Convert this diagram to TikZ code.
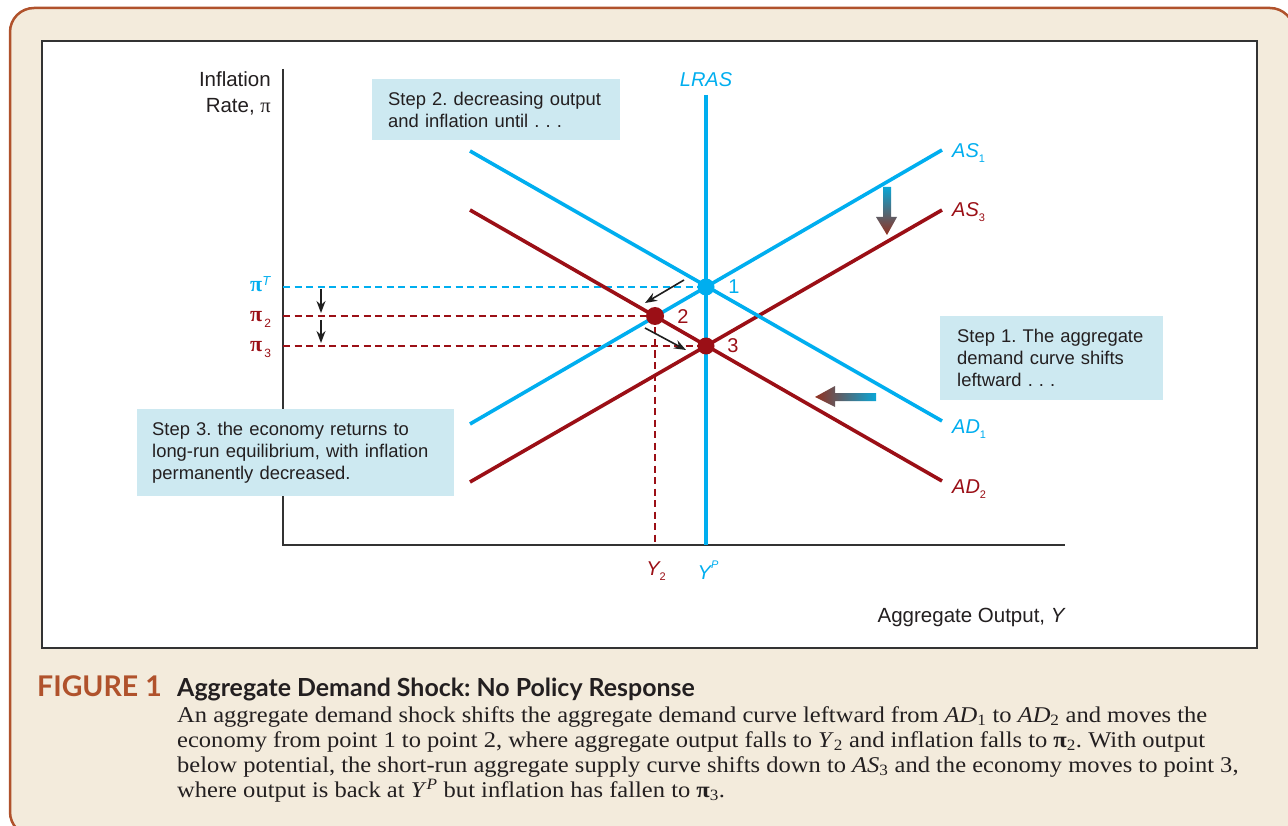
\documentclass[tikz,border=0pt]{standalone}
\usepackage{fontspec}
\setmainfont{Liberation Serif}
\setsansfont{Liberation Sans}
\newfontfamily\capfont{Lato}
\newfontfamily\bodyfont[FakeStretch=1.09]{Liberation Serif}
\usetikzlibrary{arrows.meta}
\definecolor{cyanc}{HTML}{00AEEF}
\definecolor{redc}{HTML}{9B0F16}
\definecolor{brownc}{HTML}{B0522C}
\definecolor{cream}{HTML}{F3EBDC}
\definecolor{boxc}{HTML}{CDE9F1}
\definecolor{axisc}{HTML}{333333}
\definecolor{txtc}{HTML}{231F20}
\definecolor{gblue}{HTML}{0AA6D6}
\definecolor{gred}{HTML}{93301F}
\newcommand\lsub[1]{\raisebox{-5.5pt}{\fontsize{11}{11}\selectfont\upshape #1}}
\frenchspacing
\begin{document}
\begin{tikzpicture}[x=1pt,y=-1pt,
  curve/.style={line width=3.6pt},
  axisline/.style={axisc,line width=1.4pt},
  dashline/.style={line width=1.2pt,dash pattern=on 7pt off 4.5pt},
  stepbox/.style={fill=boxc,anchor=north west,align=left,text=txtc,
    font=\sffamily\fontsize{18.4}{22}\selectfont},
  axlab/.style={text=txtc,font=\sffamily\fontsize{20.5}{26}\selectfont,inner sep=0},
  crvlab/.style={font=\sffamily\itshape\fontsize{20}{24}\selectfont,inner sep=0,anchor=west},
  ptlab/.style={font=\sffamily\fontsize{20}{24}\selectfont,inner sep=0},
  pilab/.style={inner sep=0,anchor=base west,font=\rmfamily\bfseries\fontsize{22}{24}\selectfont},
  dot/.style={circle,inner sep=0,minimum size=17pt},
  smallarr/.style={black!88,line width=1.6pt,-{Stealth[length=12pt,width=9pt]}},
  captxt/.style={anchor=base west,inner sep=0,text=txtc,font=\bodyfont\fontsize{22.5}{25}\selectfont}
]
\useasboundingbox (0,0) rectangle (1288,826);
\clip (0,0) rectangle (1288,826);
% frames
\draw[brownc,line width=2.5pt,fill=cream,rounded corners=24pt] (10,8) rectangle (1294,836);
\draw[axisc,line width=1.5pt,fill=white] (42,41) rectangle (1257,648);

% axes
\coordinate (o) at (283,545);
\coordinate (ytop) at (283,69);
\coordinate (xend) at (1065,545);
\draw[axisline] (ytop) -- (o) -- (xend);
\node[axlab,anchor=east,align=right] (ylab) at (271,93) {Inflation\\Rate, {\rmfamily π}};
\node[axlab,anchor=base east] (xlab) at (1066,622) {Aggregate Output, \textit{Y}};

% step boxes
\node[stepbox,minimum width=248pt,minimum height=61pt,text width=216pt,inner xsep=16pt] (s2) at (372,79)
  {Step 2. decreasing output\\and inflation until . . .};
\node[stepbox,minimum width=223pt,minimum height=84pt,text width=189pt,inner xsep=17pt] (s1) at (940,316)
  {Step 1. The aggregate\\demand curve shifts\\leftward . . .};
\node[stepbox,minimum width=317pt,minimum height=87pt,text width=287pt,inner xsep=15pt] (s3) at (137,409)
  {Step 3. the economy returns to\\long-run equilibrium, with inflation\\permanently decreased.};

% curve end points
\coordinate (lrasT) at (706,95);
\coordinate (lrasB) at (706,545);
\coordinate (as1a) at (470,424);
\coordinate (as1b) at (942,150);
\coordinate (as3a) at (470,482);
\coordinate (as3b) at (942,210);
\coordinate (ad1a) at (470,151);
\coordinate (ad1b) at (942,421);
\coordinate (ad2a) at (470,210);
\coordinate (ad2b) at (942,481);

% points
\node[dot] (p1) at (706,287) {};
\node[dot] (p2) at (655,316) {};
\node[dot] (p3) at (706,346) {};

% dashed guide lines
\coordinate (piT) at (283,287);
\coordinate (pi2) at (283,316);
\coordinate (pi3) at (283,346);
\coordinate (y2) at (655,545);
\draw[dashline,cyanc] (piT) -- (p1.center);
\draw[dashline,redc] (pi2) -- (p2.center);
\draw[dashline,redc] (pi3) -- (p3.center);
\draw[dashline,redc] (p2.center) -- (y2);

% curves
\draw[curve,redc] (ad2a) -- (ad2b);
\draw[curve,redc] (as3a) -- (as3b);
\draw[curve,cyanc] (ad1a) -- (ad1b);
\draw[curve,cyanc] (as1a) -- (as1b);
\draw[curve,cyanc] (lrasT) -- (lrasB);

\fill[cyanc] (p1) circle (8.5pt);
\fill[redc] (p2) circle (9pt);
\fill[redc] (p3) circle (8.5pt);

% curve labels
\node[crvlab,cyanc,anchor=center] (lras) at (706,80) {LRAS};
\node[crvlab,cyanc] (las1) at (952,153) {AS\lsub{1}};
\node[crvlab,redc] (las3) at (952,212) {AS\lsub{3}};
\node[crvlab,cyanc] (lad1) at (952,429) {AD\lsub{1}};
\node[crvlab,redc] (lad2) at (952,489) {AD\lsub{2}};
\node[ptlab,cyanc] (l1) at (734,287) {1};
\node[ptlab,redc] (l2) at (683,317) {2};
\node[ptlab,redc] (l3) at (733,346) {3};

% axis value labels
\node[pilab,cyanc] (lpiT) at (250,292) {π\raisebox{6pt}{\sffamily\mdseries\itshape\fontsize{13}{13}\selectfont T}};
\node[pilab,redc] (lpi2) at (250,322) {π\raisebox{-6pt}{\sffamily\mdseries\fontsize{12}{12}\selectfont\,2}};
\node[pilab,redc] (lpi3) at (250,352) {π\raisebox{-6pt}{\sffamily\mdseries\fontsize{12}{12}\selectfont\,3}};
\node[inner sep=0,redc,font=\sffamily\itshape\fontsize{20}{24}\selectfont] (ly2) at (656,571) {Y\lsub{2}};
\node[inner sep=0,cyanc,font=\sffamily\itshape\fontsize{20}{24}\selectfont] (lyp) at (708,570) {Y\raisebox{1.0ex}{\fontsize{11}{11}\selectfont P}};

% small black arrows
\coordinate (a1s) at (321,289); \coordinate (a1e) at (321,313);
\coordinate (a2s) at (321,320); \coordinate (a2e) at (321,343);
\draw[smallarr] (a1s) -- (a1e);
\draw[smallarr] (a2s) -- (a2e);
\coordinate (d1s) at (684,280); \coordinate (d1e) at (645,303);
\coordinate (d2s) at (645,328); \coordinate (d2e) at (686,350);
\draw[smallarr] (d1s) -- (d1e);
\draw[smallarr] (d2s) -- (d2e);

% gradient shift arrows
\shade[top color=gblue,bottom color=gred]
  (883,187) -- (891,187) -- (891,217) -- (897,217) -- (887,235) -- (876,217) -- (883,217) -- cycle;
\shade[left color=gred,right color=gblue]
  (876,393) -- (876,401) -- (835,401) -- (835,407) -- (815,397) -- (835,386) -- (835,393) -- cycle;

% caption
\node[anchor=base west,inner sep=0,text=brownc,font=\capfont\bfseries\fontsize{28.5}{30}\selectfont] (fig) at (37,696) {FIGURE 1};
\node[anchor=base west,inner sep=0,text=txtc,font=\capfont\bfseries\fontsize{24.9}{30}\selectfont] (title) at (177,696) {Aggregate Demand Shock: No Policy Response};
\node[captxt] (c1) at (177,722) {An aggregate demand shock shifts the aggregate demand curve leftward from \textit{AD}\textsubscript{1} to \textit{AD}\textsubscript{2} and moves the};
\node[captxt] (c2) at (177,747) {economy from point 1 to point 2, where aggregate output falls to \textit{Y}\textsubscript{2} and inflation falls to \textbf{π}\textsubscript{2}. With output};
\node[captxt] (c3) at (177,772) {below potential, the short-run aggregate supply curve shifts down to \textit{AS}\textsubscript{3} and the economy moves to point 3,};
\node[captxt] (c4) at (177,797) {where output is back at \textit{Y}\textsuperscript{\textit{P}} but inflation has fallen to \textbf{π}\textsubscript{3}.};
\end{tikzpicture}
\end{document}
